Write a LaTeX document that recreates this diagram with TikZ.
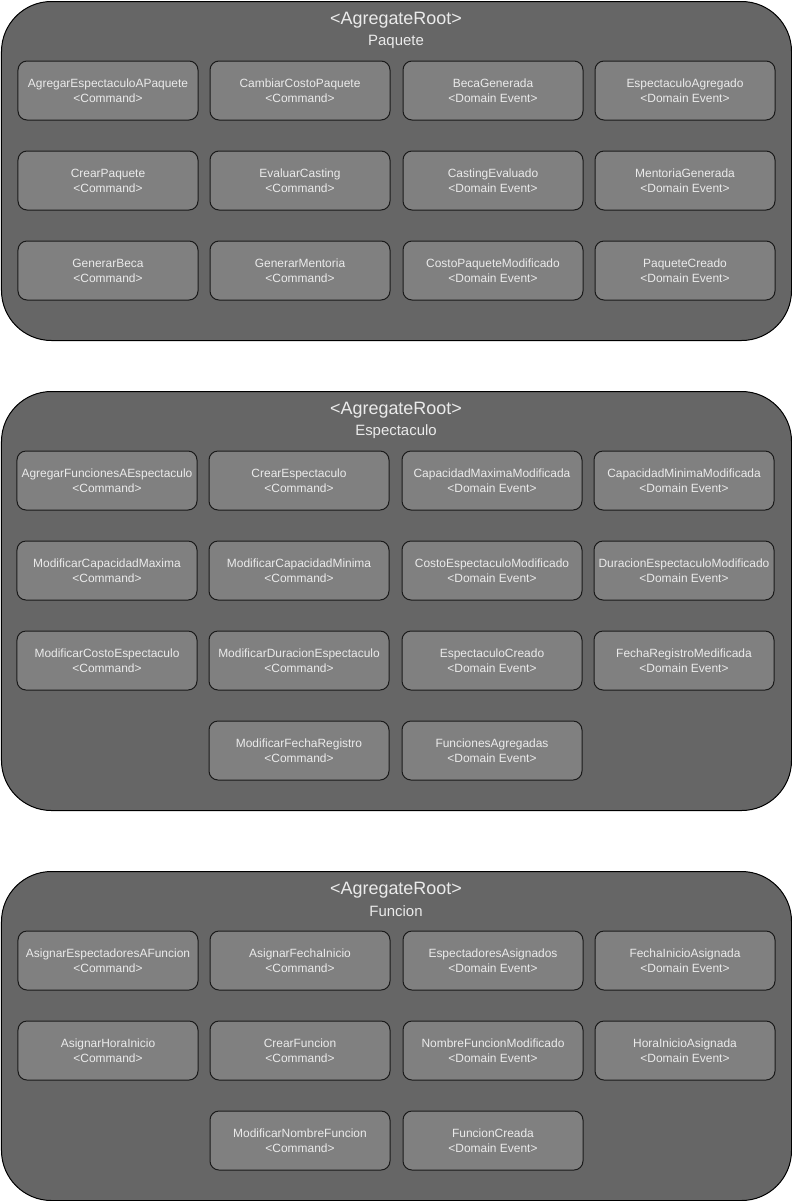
\documentclass[tikz,border=0pt]{standalone}
\usepackage{fontspec}
\setmainfont{Liberation Sans}
\definecolor{contfill}{HTML}{666666}
\definecolor{itemfill}{HTML}{808080}
\definecolor{txt}{HTML}{EBEBEB}
\definecolor{edge}{HTML}{1A1A1A}
\begin{document}
\begin{tikzpicture}[x=1bp,y=-1bp,
  container/.style={draw=black,fill=contfill,line width=1bp,rounded corners=50bp,
    minimum width=790bp,inner sep=0pt,anchor=north west},
  item/.style={draw=edge,fill=itemfill,line width=1bp,rounded corners=9bp,
    minimum width=180bp,minimum height=59bp,inner sep=0pt,align=center,
    text=txt,font=\fontsize{12}{15}\selectfont},
  ttl/.style={text=txt,font=\fontsize{18}{20}\selectfont,inner sep=0pt},
  ttlname/.style={text=txt,font=\fontsize{15}{17}\selectfont,inner sep=0pt}]
\useasboundingbox (0,0) rectangle (792,1201);
% ---------- Paquete ----------
\node[container,minimum height=339bp] (cpaq) at (1,1) {};
\node[ttl] (tpaq1) at (396,20.5) {<AgregateRoot>};
\node[ttlname] (tpaq2) at (396,41.5) {Paquete};
\node[item] (p11) at (108,90.5) {AgregarEspectaculoAPaquete\\<Command>};
\node[item] (p12) at (300,90.5) {CambiarCostoPaquete\\<Command>};
\node[item] (p13) at (493,90.5) {BecaGenerada\\<Domain Event>};
\node[item] (p14) at (685,90.5) {EspectaculoAgregado\\<Domain Event>};
\node[item] (p21) at (108,180.5) {CrearPaquete\\<Command>};
\node[item] (p22) at (300,180.5) {EvaluarCasting\\<Command>};
\node[item] (p23) at (493,180.5) {CastingEvaluado\\<Domain Event>};
\node[item] (p24) at (685,180.5) {MentoriaGenerada\\<Domain Event>};
\node[item] (p31) at (108,270.5) {GenerarBeca\\<Command>};
\node[item] (p32) at (300,270.5) {GenerarMentoria\\<Command>};
\node[item] (p33) at (493,270.5) {CostoPaqueteModificado\\<Domain Event>};
\node[item] (p34) at (685,270.5) {PaqueteCreado\\<Domain Event>};
% ---------- Espectaculo ----------
\node[container,minimum height=419bp] (cesp) at (1,391) {};
\node[ttl] (tesp1) at (396,410.5) {<AgregateRoot>};
\node[ttlname] (tesp2) at (396,431.5) {Espectaculo};
\node[item] (e11) at (107,480.5) {AgregarFuncionesAEspectaculo\\<Command>};
\node[item] (e12) at (299,480.5) {CrearEspectaculo\\<Command>};
\node[item] (e13) at (492,480.5) {CapacidadMaximaModificada\\<Domain Event>};
\node[item] (e14) at (684,480.5) {CapacidadMinimaModificada\\<Domain Event>};
\node[item] (e21) at (107,570.5) {ModificarCapacidadMaxima\\<Command>};
\node[item] (e22) at (299,570.5) {ModificarCapacidadMinima\\<Command>};
\node[item] (e23) at (492,570.5) {CostoEspectaculoModificado\\<Domain Event>};
\node[item] (e24) at (684,570.5) {DuracionEspectaculoModificado\\<Domain Event>};
\node[item] (e31) at (107,660.5) {ModificarCostoEspectaculo\\<Command>};
\node[item] (e32) at (299,660.5) {ModificarDuracionEspectaculo\\<Command>};
\node[item] (e33) at (492,660.5) {EspectaculoCreado\\<Domain Event>};
\node[item] (e34) at (684,660.5) {FechaRegistroMedificada\\<Domain Event>};
\node[item] (e42) at (299,750.5) {ModificarFechaRegistro\\<Command>};
\node[item] (e43) at (492,750.5) {FuncionesAgregadas\\<Domain Event>};
% ---------- Funcion ----------
\node[container,minimum height=329bp] (cfun) at (1,871) {};
\node[ttl] (tfun1) at (396,890.5) {<AgregateRoot>};
\node[ttlname] (tfun2) at (396,911.5) {Funcion};
\node[item] (f11) at (108,960.5) {AsignarEspectadoresAFuncion\\<Command>};
\node[item] (f12) at (300,960.5) {AsignarFechaInicio\\<Command>};
\node[item] (f13) at (493,960.5) {EspectadoresAsignados\\<Domain Event>};
\node[item] (f14) at (685,960.5) {FechaInicioAsignada\\<Domain Event>};
\node[item] (f21) at (108,1050.5) {AsignarHoraInicio\\<Command>};
\node[item] (f22) at (300,1050.5) {CrearFuncion\\<Command>};
\node[item] (f23) at (493,1050.5) {NombreFuncionModificado\\<Domain Event>};
\node[item] (f24) at (685,1050.5) {HoraInicioAsignada\\<Domain Event>};
\node[item] (f32) at (300,1140.5) {ModificarNombreFuncion\\<Command>};
\node[item] (f33) at (493,1140.5) {FuncionCreada\\<Domain Event>};
\end{tikzpicture}
\end{document}
